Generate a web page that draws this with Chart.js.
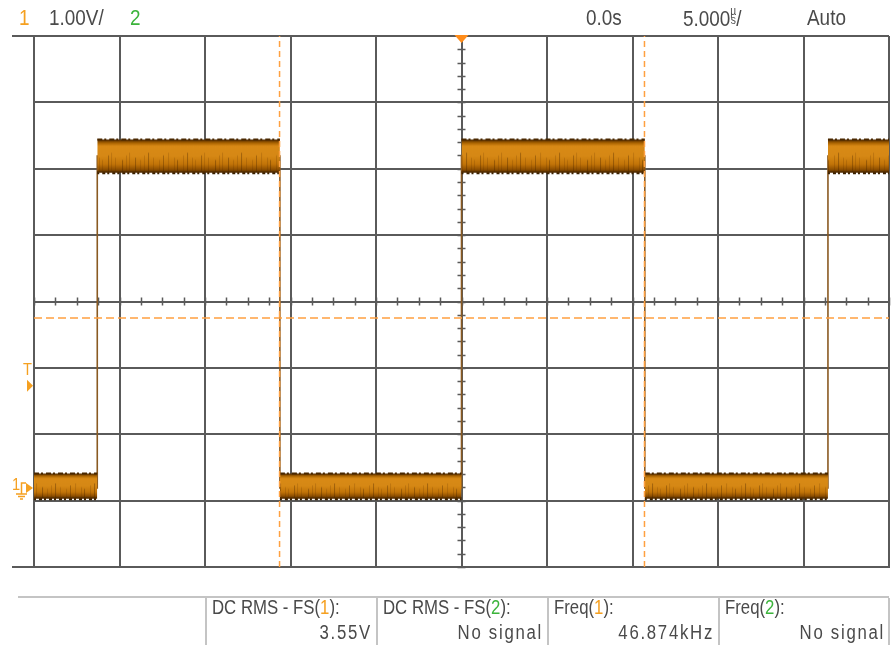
<!DOCTYPE html>
<html>
<head>
<meta charset="utf-8">
<script src="https://cdn.jsdelivr.net/npm/chart.js@4.4.1/dist/chart.umd.min.js"></script>
<style>
html, body { margin: 0; padding: 0; background: #fff; }
#scope { position: relative; width: 893px; height: 645px; overflow: hidden; }
#scope canvas { position: absolute; left: 0; top: 0; }
.lbl { position: absolute; font-family: "Liberation Sans", Arial, sans-serif; font-size: 22px; line-height: 22px; color: #4a4a4a; white-space: nowrap; transform: scaleX(0.86); transform-origin: left top; }
.ch1 { color: #f5a020; }
.ch2 { color: #3cb43c; }
.small { font-size: 17px; line-height: 18px; }
.meas { font-size: 19.5px; line-height: 20px; }
.val { letter-spacing: 2px; text-align: right; width: 180px; transform-origin: right top; }
.stack { display: inline-block; font-size: 12px; line-height: 9px; vertical-align: 2px; text-align: center; }
</style>
</head>
<body>
<div id="scope">
  <canvas id="grafico-scope" width="893" height="645"></canvas>
</div>
<script>
/* DADOS DO OSCILOSCÓPIO */
const timeRangeUs = [-25, 25];          // 5.000 us/div, 10 divisoes
const voltRangeV = [-1.19, 6.81];       // 1.00 V/div, 8 divisoes
const edgeTimesUs = [-21.3, -10.62, 0.0, 10.72, 21.43];
const lowLevelV = 0.0;
const highLevelV = 5.0;
const lowBandV = [-0.16, 0.22];
const highBandV = [4.75, 5.25];
const cursorTimesUs = [-10.64, 10.70];
const cursorLevelV = 2.56;
const triggerLevelV = 1.54;
const measNames = ["DC RMS - FS(1):", "DC RMS - FS(2):", "Freq(1):", "Freq(2):"];
const measValues = ["3.55V", "No signal", "46.874kHz", "No signal"];
const measColLeft = [206, 377, 548, 719];

const gridColor = "#5a5a5a";
const cursorColor = "#ffa040";

/* TEXTOS */
const scope = document.getElementById("scope");
function addLabel(html, left, top, cls) {
    const d = document.createElement("div");
    d.className = "lbl " + (cls || "");
    d.style.left = left + "px";
    d.style.top = top + "px";
    d.innerHTML = html;
    scope.appendChild(d);
    return d;
}
addLabel("1", 19, 7, "ch1");
addLabel("1.00V/", 49, 7);
addLabel("2", 130, 7, "ch2");
addLabel("0.0s", 586, 7);
addLabel('5.000<span class="stack">µ<br>s</span>/', 683, 7);
addLabel("Auto", 807, 7);
addLabel("T", 23, 361, "ch1 small");
addLabel("1", 12, 476, "ch1 small");

measNames.forEach((nome, i) => {
    const html = nome.replace(/\((\d)\)/, (m, n) => `(<span class="ch${n}">${n}</span>)`);
    addLabel(html, measColLeft[i] + 6, 597, "meas");
    addLabel(measValues[i], measColLeft[i] + 171 - 5 - 180, 622, "meas val");
});

/* TRAÇO */
const trace = [{ x: timeRangeUs[0], y: lowLevelV }];
let level = lowLevelV;
edgeTimesUs.forEach(t => {
    trace.push({ x: t, y: level });
    level = level === lowLevelV ? highLevelV : lowLevelV;
    trace.push({ x: t, y: level });
});
trace.push({ x: timeRangeUs[1], y: level });

/* textura da faixa de ruído (estilo) */
const streakCols = [1, 6, 9, 15, 18, 22, 29, 33, 36, 42, 47, 51, 55, 60, 66, 70, 75, 81, 84, 90];
function bandFill(band) {
    let cache = null;
    return (c) => {
        const chart = c.chart;
        if (!chart.chartArea) return "#c87a10";
        const y = chart.scales.y;
        const top = y.getPixelForValue(band[1]);
        const bot = y.getPixelForValue(band[0]);
        const h = Math.max(2, Math.round(bot - top));
        if (cache && cache.h === h && cache.top === top) return cache.pat;
        const off = document.createElement("canvas");
        off.width = 93; off.height = h;
        const o = off.getContext("2d");
        const g = o.createLinearGradient(0, 0, 0, h);
        g.addColorStop(0, "#4a2600");
        g.addColorStop(0.1, "#a86200");
        g.addColorStop(0.2, "#d98a16");
        g.addColorStop(0.5, "#d68815");
        g.addColorStop(0.75, "#c27408");
        g.addColorStop(0.92, "#8a4c00");
        g.addColorStop(1, "#3a1f00");
        o.fillStyle = g;
        o.fillRect(0, 0, 93, h);
        streakCols.forEach((sx, k) => {
            o.fillStyle = k % 3 === 0 ? "rgba(70,35,0,0.35)" : "rgba(90,45,0,0.2)";
            const y0 = h * [0.4, 0.55, 0.62, 0.48][k % 4];
            o.fillRect(sx, y0, 1, h - y0);
        });
        const pat = chart.ctx.createPattern(off, "repeat");
        pat.setTransform(new DOMMatrix().translate(0, top));
        cache = { h, top, pat };
        return pat;
    };
}

const datasets = [];
const bounds = [timeRangeUs[0], ...edgeTimesUs, timeRangeUs[1]];
for (let i = 0; i < bounds.length - 1; i++) {
    const band = i % 2 === 0 ? lowBandV : highBandV;
    datasets.push({
        data: [{ x: bounds[i], y: band[1] }, { x: bounds[i + 1], y: band[1] }],
        fill: "+1",
        backgroundColor: bandFill(band),
        borderColor: "#4a2800",
        borderWidth: 2,
        borderDash: [5, 2, 2, 3],
        order: 1
    });
    datasets.push({
        data: [{ x: bounds[i], y: band[0] }, { x: bounds[i + 1], y: band[0] }],
        fill: false,
        borderColor: "#3a2000",
        borderWidth: 3,
        borderDash: [2, 3, 3, 2],
        order: 1
    });
}
datasets.push({ data: trace, borderColor: "#8a5a22", borderWidth: 1.6, fill: false, order: 2 });
cursorTimesUs.forEach(t => {
    datasets.push({
        data: [{ x: t, y: voltRangeV[0] }, { x: t, y: voltRangeV[1] }],
        borderColor: cursorColor, borderWidth: 1.5, borderDash: [6, 4], fill: false, order: 0
    });
});
datasets.push({
    data: [{ x: timeRangeUs[0], y: cursorLevelV }, { x: timeRangeUs[1], y: cursorLevelV }],
    borderColor: cursorColor, borderWidth: 1.5, borderDash: [8, 4], fill: false, order: 0
});

/* MARCAS DO OSCILOSCÓPIO */
const scopeMarks = {
    id: "scopeMarks",
    beforeDatasetsDraw(chart) {
        const { ctx, chartArea: a, scales: { x, y } } = chart;
        ctx.save();
        ctx.strokeStyle = gridColor;
        ctx.lineWidth = 2;
        ctx.beginPath();
        ctx.moveTo(12, a.top); ctx.lineTo(a.left, a.top);
        ctx.moveTo(12, a.bottom); ctx.lineTo(a.left, a.bottom);
        ctx.stroke();
        const yMid = y.getPixelForValue((voltRangeV[0] + voltRangeV[1]) / 2);
        const xMid = x.getPixelForValue((timeRangeUs[0] + timeRangeUs[1]) / 2);
        ctx.lineWidth = 1.5;
        ctx.beginPath();
        for (let k = 0; k <= 40; k++) {
            const px = Math.round(x.getPixelForValue(timeRangeUs[0] + k * 1.25)) + 0.5;
            ctx.moveTo(px, yMid - 4); ctx.lineTo(px, yMid + 4);
        }
        for (let k = 0; k <= 40; k++) {
            const py = Math.round(y.getPixelForValue(voltRangeV[0] + k * 0.2)) + 0.5;
            ctx.moveTo(xMid - 4, py); ctx.lineTo(xMid + 4, py);
        }
        ctx.stroke();
        ctx.restore();
    },
    afterDraw(chart) {
        const { ctx, chartArea: a, scales: { x, y } } = chart;
        const xMid = x.getPixelForValue(0);
        ctx.save();
        ctx.fillStyle = "#ff8c1a";
        ctx.beginPath();
        ctx.moveTo(xMid - 7, a.top - 1); ctx.lineTo(xMid + 7, a.top - 1); ctx.lineTo(xMid, a.top + 7);
        ctx.closePath(); ctx.fill();
        ctx.fillStyle = "#f5a020";
        const pt = y.getPixelForValue(triggerLevelV);
        ctx.beginPath();
        ctx.moveTo(27, pt - 6); ctx.lineTo(33, pt); ctx.lineTo(27, pt + 6);
        ctx.closePath(); ctx.fill();
        const p0 = y.getPixelForValue(0);
        ctx.beginPath();
        ctx.moveTo(26, p0 - 5); ctx.lineTo(33, p0); ctx.lineTo(26, p0 + 5);
        ctx.closePath(); ctx.fill();
        ctx.strokeStyle = "#f5a020";
        ctx.lineWidth = 1.5;
        ctx.beginPath();
        ctx.moveTo(26, p0 - 5); ctx.lineTo(21.5, p0 - 5); ctx.lineTo(21.5, p0 + 6);
        ctx.moveTo(16, p0 + 6); ctx.lineTo(27, p0 + 6);
        ctx.moveTo(18, p0 + 8.5); ctx.lineTo(25, p0 + 8.5);
        ctx.moveTo(20, p0 + 11); ctx.lineTo(23, p0 + 11);
        ctx.stroke();
        // painel de medidas
        ctx.strokeStyle = "#c4c4c4";
        ctx.lineWidth = 2;
        ctx.beginPath();
        ctx.moveTo(18, 597); ctx.lineTo(a.right, 597);
        measColLeft.concat([a.right]).forEach(c => { ctx.moveTo(c, 598); ctx.lineTo(c, 645); });
        ctx.stroke();
        ctx.restore();
    }
};

new Chart(document.getElementById("grafico-scope"), {
    type: "line",
    data: { datasets: datasets },
    options: {
        responsive: false,
        animation: false,
        devicePixelRatio: 1,
        layout: { padding: { left: 34, right: 4, top: 36, bottom: 78 } },
        elements: { point: { radius: 0 }, line: { tension: 0 } },
        plugins: { legend: { display: false }, tooltip: { enabled: false } },
        scales: {
            x: {
                type: "linear", min: timeRangeUs[0], max: timeRangeUs[1],
                ticks: { display: false, stepSize: 5 },
                grid: { color: gridColor, lineWidth: 2, drawTicks: false },
                border: { color: gridColor, width: 2 }
            },
            y: {
                type: "linear", min: voltRangeV[0], max: voltRangeV[1],
                afterBuildTicks: (axis) => {
                    axis.ticks = [];
                    for (let k = 0; k <= 8; k++) axis.ticks.push({ value: voltRangeV[0] + k });
                },
                ticks: { display: false },
                grid: { color: gridColor, lineWidth: 2, drawTicks: false },
                border: { color: gridColor, width: 2 }
            }
        }
    },
    plugins: [scopeMarks]
});
</script>
</body>
</html>
